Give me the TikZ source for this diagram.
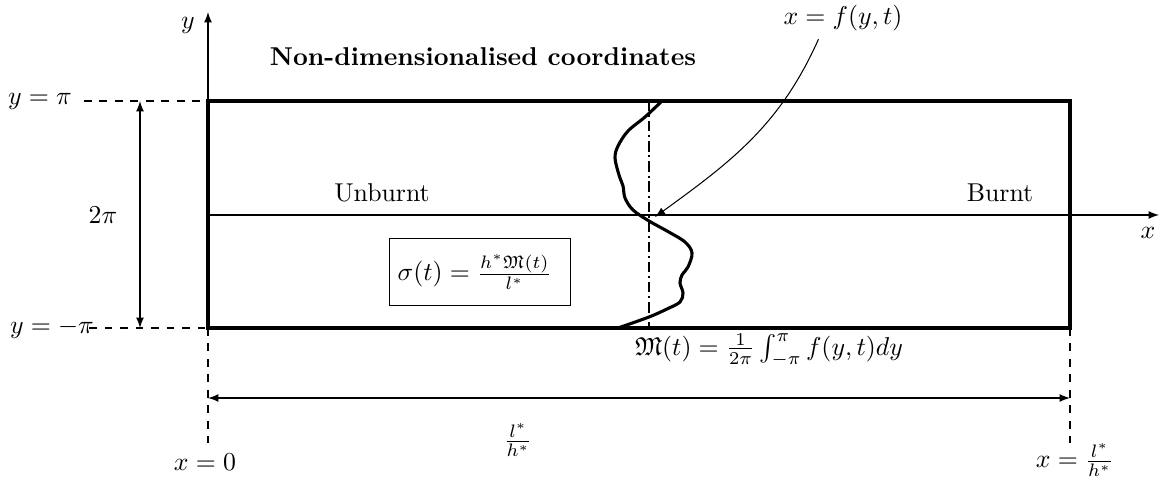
\documentclass[tikz,border=0pt]{standalone}
\usepackage{amssymb}
\usetikzlibrary{calc}
\begin{document}
\begin{tikzpicture}[x=0.3876pt,y=-0.3876pt,
  frame/.style={line width=1.2pt},
  front/.style={line width=1.2pt},
  meanline/.style={line width=0.8pt, dash pattern=on 4pt off 1.5pt on 0.8pt off 1.5pt},
  guide/.style={dashed, line width=0.4pt},
  dim/.style={latex-latex, line width=0.4pt},
  axis/.style={-latex, line width=0.4pt},
  lbl/.style={inner sep=2pt}]
\useasboundingbox (0,0) rectangle (1160,483);
% corners
\coordinate (A) at (208,101);
\coordinate (B) at (1070,101);
\coordinate (C) at (1070,328);
\coordinate (D) at (208,328);
\coordinate (O) at (208,215);
\coordinate (ytip) at (208,12);
\coordinate (xtip) at (1159,215);
% axes
\draw[axis] (D) -- (ytip);
\draw[axis] (O) -- (xtip);
\node[lbl] (ylab) at (188,25) {$y$};
\node[lbl] (xlab) at (1148,233) {$x$};
% box
\draw[frame] (A) -- (B) -- (C) -- (D) -- cycle;
% title
\node[lbl] (title) at (483,57) {\textbf{Non-dimensionalised coordinates}};
% region labels
\node[lbl] (unb) at (382,193) {Unburnt};
\node[lbl] (brn) at (1000,193) {Burnt};
% y labels and guides
\node[lbl] (ypi) at (40,101) {$y=\pi$};
\node[lbl] (ymp) at (52,328) {$y=-\pi$};
\draw[guide] (ypi.east) ++(2.5pt,0) -- (A);
\draw[guide] ([xshift=-4pt]ymp.east) -- (D);
\coordinate (tpi) at (140,101);
\coordinate (bpi) at (140,328);
\draw[dim] (tpi) -- (bpi);
\node[lbl] (twopi) at (103,215) {$2\pi$};
% mean line and front
\draw[meanline] (649,101) -- (649,328);
\draw[front] plot[smooth, tension=0.55] coordinates {(662,101) (645,117) (628,131) (618,146) (615,158) (619,175) (623,186) (625,198) (633,210) (649,221) (667,231) (685,242) (692,253) (688,267) (682,275) (680,283) (683,293) (680,302) (667,309) (649,317) (618,328)};
% f label and arrow
\node[lbl] (flab) at (843,18) {$x=f(y,t)$};
\coordinate (ftip) at (655,217);
\draw[-latex, line width=0.4pt] ([xshift=-9.5pt,yshift=-1pt]flab.south) to[out=-114,in=36] (ftip);
% sigma box
\node[draw, line width=0.4pt, minimum width=70.5pt, minimum height=25.6pt] (sigbox) at (480,272) {};
\node[anchor=west] (sig) at (sigbox.west) {$\sigma(t)=\frac{h^*\mathfrak{M}(t)}{l^*}$};
% M formula
\node[lbl] (Mform) at (769,350) {$\mathfrak{M}(t)=\frac{1}{2\pi}\int_{-\pi}^{\pi} f(y,t)dy$};
% horizontal dimension
\coordinate (dl) at (208,398);
\coordinate (dr) at (1070,398);
\coordinate (gl) at (208,443);
\coordinate (gr) at (1070,443);
\draw[guide] (D) -- (gl);
\draw[guide] (C) -- (gr);
\draw[dim] (dl) -- (dr);
\node[lbl] (lh) at (518,440) {$\frac{l^*}{h^*}$};
\node[lbl] (x0) at (205,462) {$x=0$};
\node[lbl] (xl) at (1075,460) {$x=\frac{l^*}{h^*}$};
\end{tikzpicture}
\end{document}
